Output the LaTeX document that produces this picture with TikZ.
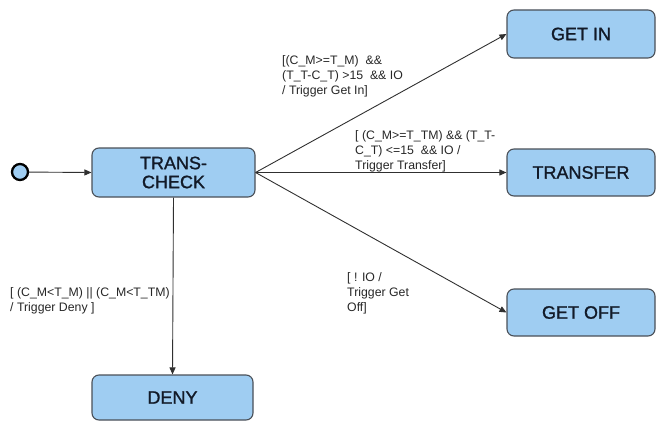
\documentclass[tikz,border=0pt]{standalone}
\usepackage{fontspec}
\setmainfont{Liberation Sans}
\newfontfamily\boxfont[FakeBold=1.2]{Liberation Sans}
\usetikzlibrary{arrows.meta}
\definecolor{boxfill}{HTML}{9FCDF2}
\definecolor{boxline}{HTML}{4A5058}
\definecolor{boxtext}{HTML}{121A28}
\definecolor{lineclr}{HTML}{303030}
\tikzset{
  state/.style={draw=boxline, line width=1.1pt, fill=boxfill, rounded corners=7pt,
    text=boxtext, font=\boxfont\fontsize{18}{19}\selectfont, align=center, inner sep=0pt},
  arr/.style={draw=lineclr, line width=0.9pt, -{Triangle[length=7pt,width=6pt]}},
  lbl/.style={anchor=north west, align=left, inner sep=0pt, text=black!85,
    font=\fontsize{12.3}{15}\selectfont}
}
\begin{document}
\begin{tikzpicture}[x=1pt,y=-1pt]
\useasboundingbox (0,0) rectangle (658,420);
\node[circle, draw=black, line width=2.3pt, fill=boxfill, minimum size=16pt, inner sep=0pt] (init) at (20,172) {};
\node[state, minimum width=163pt, minimum height=49pt] (tc) at (173.5,172.5) {TRANS-\\CHECK};
\node[state, minimum width=148pt, minimum height=48pt] (getin) at (581,34) {GET IN};
\node[state, minimum width=148pt, minimum height=47pt] (transfer) at (581,172.5) {TRANSFER};
\node[state, minimum width=148pt, minimum height=47pt] (getoff) at (581,312.5) {GET OFF};
\node[state, minimum width=161pt, minimum height=45pt] (deny) at (172.5,397.5) {DENY};

\draw[arr] (init) -- (tc.west);
\draw[arr] (tc.east) -- (getin.west);
\draw[arr] (tc.east) -- (transfer.west);
\draw[arr] (tc.east) -- (getoff.west);
\draw[arr] (tc.south) -- (deny.north);

\node[lbl] (l1) at (282,55) {[(C\_M>=T\_M) \ \&\&\\(T\_T-C\_T) >15 \ \&\& IO\\/ Trigger Get In]};
\node[lbl] (l2) at (355,130) {[ (C\_M>=T\_TM) \&\& (T\_T-\\C\_T) <=15 \ \&\& IO /\\Trigger Transfer]};
\node[lbl] (l3) at (347,272) {[ ! IO /\\Trigger Get\\Off]};
\node[lbl] (l4) at (10,287) {[ (C\_M<T\_M) || (C\_M<T\_TM)\\/ Trigger Deny ]};
\end{tikzpicture}
\end{document}
